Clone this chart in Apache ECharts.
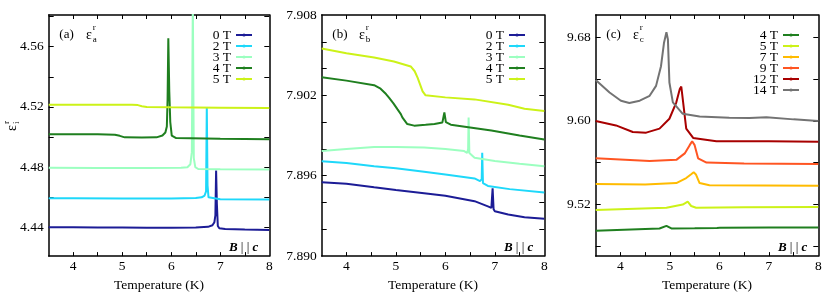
<!DOCTYPE html>
<html><head><meta charset="utf-8">
<script src="https://cdn.jsdelivr.net/npm/echarts@6/dist/echarts.min.js"></script>
<style>html,body{margin:0;padding:0;background:#fff}#c{width:830px;height:297px}</style>
</head><body><div id="c"></div>
<script>
// ---------- data ----------
// panel (a): eps_a^r vs T
const a_0T = [[3.5,4.4402],[4.0,4.4401],[4.5,4.4400],[5.0,4.4399],[5.5,4.4398],[6.0,4.4398],[6.5,4.4399],[6.75,4.4404],[6.84,4.4415],[6.88,4.4435],[6.90,4.4480],[6.915,4.4778],[6.93,4.4560],[6.95,4.4410],[6.98,4.4395],[7.1,4.4390],[7.5,4.4387],[8.0,4.4384]];
const a_2T = [[3.5,4.4594],[4.0,4.4594],[5.0,4.4593],[6.0,4.4593],[6.5,4.4595],[6.62,4.4600],[6.68,4.4612],[6.71,4.4640],[6.725,4.5200],[6.74,4.4680],[6.76,4.4600],[6.8,4.4590],[7.0,4.4588],[8.0,4.4586]];
const a_3T = [[3.5,4.4796],[4.5,4.4795],[5.5,4.4794],[6.2,4.4796],[6.33,4.4800],[6.39,4.4820],[6.42,4.4900],[6.44,4.5900],[6.46,4.4860],[6.49,4.4800],[6.55,4.4788],[7.0,4.4786],[8.0,4.4784]];
const a_4T = [[3.5,4.5019],[4.0,4.5019],[4.5,4.5018],[4.85,4.5015],[4.95,4.5008],[5.05,4.4998],[5.4,4.4997],[5.7,4.4998],[5.82,4.5010],[5.88,4.5030],[5.91,4.5070],[5.925,4.5250],[5.94,4.5655],[5.96,4.5300],[5.98,4.5100],[6.01,4.5010],[6.1,4.4993],[7.0,4.4989],[8.0,4.4986]];
const a_5T = [[3.5,4.5215],[4.5,4.5215],[5.2,4.5214],[5.32,4.5212],[5.4,4.5205],[5.5,4.5199],[6.0,4.5197],[7.0,4.5195],[8.0,4.5193]];
// panel (b): eps_b^r vs T
const b_0T = [[3.5,7.89551],[4.0,7.89540],[4.56,7.89514],[5.0,7.89494],[5.57,7.8947],[6.0,7.8945],[6.59,7.8941],[6.86,7.89371],[6.93,7.89360],[6.955,7.89507],[6.975,7.8935],[7.0,7.89335],[7.27,7.8931],[7.6,7.8929],[8.0,7.89278]];
const b_2T = [[3.5,7.89708],[4.0,7.89695],[4.56,7.89671],[5.0,7.89655],[5.57,7.8963],[6.0,7.8961],[6.59,7.8958],[6.70,7.89560],[6.735,7.89575],[6.745,7.89772],[6.76,7.89545],[6.86,7.89524],[7.3,7.8950],[8.0,7.89475]];
const b_3T = [[3.5,7.89784],[4.0,7.89800],[4.56,7.89814],[5.0,7.89815],[5.57,7.8981],[6.0,7.89800],[6.38,7.89784],[6.44,7.89770],[6.46,7.89800],[6.47,7.90035],[6.485,7.8977],[6.59,7.89735],[7.0,7.8971],[7.5,7.8969],[8.0,7.89671]];
const b_4T = [[3.5,7.90335],[4.0,7.9031],[4.56,7.90276],[4.69,7.9025],[4.8,7.9021],[4.86,7.90183],[4.95,7.9014],[5.03,7.90097],[5.1,7.9006],[5.13,7.90035],[5.23,7.89986],[5.37,7.89974],[5.6,7.8998],[5.78,7.89986],[5.94,7.89998],[5.98,7.90072],[6.01,7.90000],[6.11,7.89981],[6.5,7.8996],[6.93,7.89937],[7.5,7.8990],[8.0,7.8987]];
const b_5T = [[3.5,7.9055],[4.0,7.90515],[4.56,7.90483],[4.96,7.90453],[5.3,7.90416],[5.38,7.9038],[5.44,7.9033],[5.54,7.9023],[5.6,7.9020],[6.0,7.90185],[6.59,7.9017],[7.27,7.9013],[7.6,7.9010],[8.0,7.90084]];
// panel (c): eps_c^r vs T
const c_4T = [[3.5,9.4947],[4.79,9.4969],[4.93,9.4995],[5.03,9.4970],[5.5,9.4972],[5.95,9.4975],[5.98,9.4985],[6.01,9.4976],[7.0,9.4978],[8.0,9.4980]];
const c_5T = [[3.5,9.5146],[4.93,9.5168],[5.26,9.5199],[5.36,9.5226],[5.43,9.5185],[5.53,9.5168],[6.5,9.5172],[8.0,9.5175]];
const c_7T = [[3.5,9.5396],[4.5,9.5392],[5.13,9.5405],[5.33,9.5453],[5.43,9.5490],[5.48,9.5509],[5.53,9.5484],[5.6,9.5405],[5.8,9.5383],[8.0,9.5380]];
const c_9T = [[3.5,9.5642],[4.59,9.5617],[5.13,9.5627],[5.3,9.5689],[5.4,9.5768],[5.45,9.5806],[5.5,9.5768],[5.57,9.5642],[5.74,9.5601],[6.5,9.5592],[8.0,9.5588]];
const c_12T = [[3.5,9.6000],[3.91,9.5957],[4.25,9.5894],[4.52,9.5888],[4.79,9.5926],[4.99,9.6021],[5.13,9.6178],[5.2,9.6305],[5.23,9.6330],[5.26,9.6210],[5.33,9.5926],[5.47,9.5837],[5.94,9.5806],[7.0,9.5806],[8.0,9.5800]];
const c_14T = [[3.5,9.6393],[3.78,9.6273],[4.01,9.6194],[4.18,9.6172],[4.39,9.6194],[4.59,9.6241],[4.72,9.6336],[4.82,9.6525],[4.88,9.6746],[4.93,9.6850],[4.96,9.6780],[4.99,9.6368],[5.06,9.6178],[5.26,9.6068],[5.6,9.6043],[6.2,9.6030],[6.61,9.6028],[6.95,9.6035],[7.5,9.6015],[8.0,9.6000]];

// ticks
const xTickVals = [4,4.5,5,5.5,6,6.5,7,7.5];
const xLabelVals = [4,5,6,7,8];
const aTickVals = [4.44,4.46,4.48,4.50,4.52,4.54,4.56,4.58];
const aLabelVals = [4.44,4.48,4.52,4.56];
const bTickVals = [7.892,7.894,7.896,7.898,7.900,7.902,7.904,7.906];
const bLabelVals = [7.890,7.896,7.902,7.908];
const cTickVals = [9.48,9.52,9.56,9.60,9.64,9.68];
const cLabelVals = [9.52,9.60,9.68];

// ---------- chart ----------
const FONT = 'Liberation Serif';
const COL = {'0 T':'#1c1c96','2 T':'#1ed8fa','3 T':'#9cffc0','4 T':'#1f7f1f','5 T':'#ccf218',
             '7 T':'#ffbb00','9 T':'#ff5522','12 T':'#a80000','14 T':'#737373'};
const grids = [
  {left:48.7, top:15, width:220.6, height:244},
  {left:321.7, top:15, width:222.6, height:244},
  {left:595.7, top:15, width:222.6, height:244}
];
const yRanges = [[4.421,4.581,aTickVals,aLabelVals,2],[7.890,7.908,bTickVals,bLabelVals,3],[9.4705,9.7015,cTickVals,cLabelVals,2]];
const axLine = {show:true, onZero:false, lineStyle:{color:'#000', width:1.5}};
const xAxes = [], yAxes = [];
grids.forEach((g,i)=>{
  xAxes.push({type:'value', gridIndex:i, position:'bottom', min:3.5, max:8,
    name:'Temperature (K)', nameLocation:'middle', nameGap:17,
    nameTextStyle:{fontFamily:FONT, fontSize:13.5, color:'#000'},
    axisLine:axLine, splitLine:{show:false},
    axisTick:{show:true, inside:true, length:4, customValues:xTickVals, lineStyle:{color:'#000',width:1}},
    axisLabel:{show:true, customValues:xLabelVals, margin:3, fontFamily:FONT, fontSize:13.5, color:'#000', formatter:v=>String(v)}});
  xAxes.push({type:'value', gridIndex:i, position:'top', min:3.5, max:8,
    axisLine:axLine, splitLine:{show:false},
    axisTick:{show:true, inside:true, length:4, customValues:xTickVals, lineStyle:{color:'#000',width:1}},
    axisLabel:{show:false}});
  const r = yRanges[i];
  yAxes.push({type:'value', gridIndex:i, position:'left', min:r[0], max:r[1], scale:true,
    axisLine:axLine, splitLine:{show:false},
    axisTick:{show:true, inside:true, length:5, customValues:r[2], lineStyle:{color:'#000',width:1}},
    axisLabel:{show:true, customValues:r[3], margin:5, fontFamily:FONT, fontSize:13.5, color:'#000', formatter:v=>v.toFixed(r[4])}});
  yAxes.push({type:'value', gridIndex:i, position:'right', min:r[0], max:r[1], scale:true,
    axisLine:axLine, splitLine:{show:false},
    axisTick:{show:true, inside:true, length:5, customValues:r[2], lineStyle:{color:'#000',width:1}},
    axisLabel:{show:false}});
});

const panels = [
  {tag:'a', list:[['0 T',a_0T],['2 T',a_2T],['3 T',a_3T],['4 T',a_4T],['5 T',a_5T]], legendRight:577},
  {tag:'b', list:[['0 T',b_0T],['2 T',b_2T],['3 T',b_3T],['4 T',b_4T],['5 T',b_5T]], legendRight:304},
  {tag:'c', list:[['4 T',c_4T],['5 T',c_5T],['7 T',c_7T],['9 T',c_9T],['12 T',c_12T],['14 T',c_14T]], legendRight:30}
];
const series = [], legends = [];
panels.forEach((p,i)=>{
  const names = [];
  p.list.forEach(([nm,data])=>{
    const full = nm + '|' + p.tag;
    names.push(full);
    series.push({type:'line', name:full, xAxisIndex:i*2, yAxisIndex:i*2, data:data,
      symbol:'circle', symbolSize:3, showSymbol:false, smooth:false, clip:true,
      color:COL[nm], lineStyle:{color:COL[nm], width:2}, itemStyle:{color:COL[nm]},
      animation:false, silent:true});
  });
  legends.push({data:names, orient:'vertical', align:'right', right:p.legendRight, top:28,
    padding:0, itemGap:-3, itemWidth:16, itemHeight:4, selectedMode:false,
    formatter:n=>n.split('|')[0],
    textStyle:{fontFamily:FONT, fontSize:13.5, color:'#000'}});
});

// annotations
const graphic = [];
const tags = [['(a)','a'],['(b)','b'],['(c)','c']];
grids.forEach((g,i)=>{
  const L = g.left, R = g.left + g.width;
  graphic.push({type:'text', x:L+10.6, y:35, style:{text:tags[i][0], font:'13px '+FONT, fill:'#000', align:'left', verticalAlign:'middle', textAlign:'left', textVerticalAlign:'middle'}});
  graphic.push({type:'text', x:L+37.3, y:35, style:{text:'ε', font:'14px '+FONT, fill:'#000', align:'left', verticalAlign:'middle', textAlign:'left', textVerticalAlign:'middle'}});
  graphic.push({type:'text', x:L+44, y:27.5, style:{text:'r', font:'9px '+FONT, fill:'#000', align:'left', verticalAlign:'middle', textAlign:'left', textVerticalAlign:'middle'}});
  graphic.push({type:'text', x:L+44, y:39.5, style:{text:tags[i][1], font:'9px '+FONT, fill:'#000', align:'left', verticalAlign:'middle', textAlign:'left', textVerticalAlign:'middle'}});
  graphic.push({type:'text', x:R-11, y:248, style:{text:'{bi|B} | | {bi|c}', font:'13px '+FONT, fill:'#000', align:'right', verticalAlign:'middle', textAlign:'right', textVerticalAlign:'middle',
    rich:{bi:{fontFamily:FONT, fontSize:13, fontWeight:'bold', fontStyle:'italic', fill:'#000'}}}});
});
// y-axis title of panel (a), rotated
graphic.push({type:'group', x:12, y:131, rotation:Math.PI/2, children:[
  {type:'text', x:0, y:0, style:{text:'ε', font:'14px '+FONT, fill:'#000', align:'left', verticalAlign:'middle', textAlign:'left', textVerticalAlign:'middle'}},
  {type:'text', x:7, y:-5, style:{text:'r', font:'9px '+FONT, fill:'#000', align:'left', verticalAlign:'middle', textAlign:'left', textVerticalAlign:'middle'}},
  {type:'text', x:7, y:4.5, style:{text:'i', font:'9px '+FONT, fill:'#000', align:'left', verticalAlign:'middle', textAlign:'left', textVerticalAlign:'middle'}}
]});

const chart = echarts.init(document.getElementById('c'), null, {renderer:'canvas'});
chart.setOption({
  animation:false, backgroundColor:'#fff',
  grid:grids, xAxis:xAxes, yAxis:yAxes, series:series, legend:legends, graphic:graphic
});
</script></body></html>
